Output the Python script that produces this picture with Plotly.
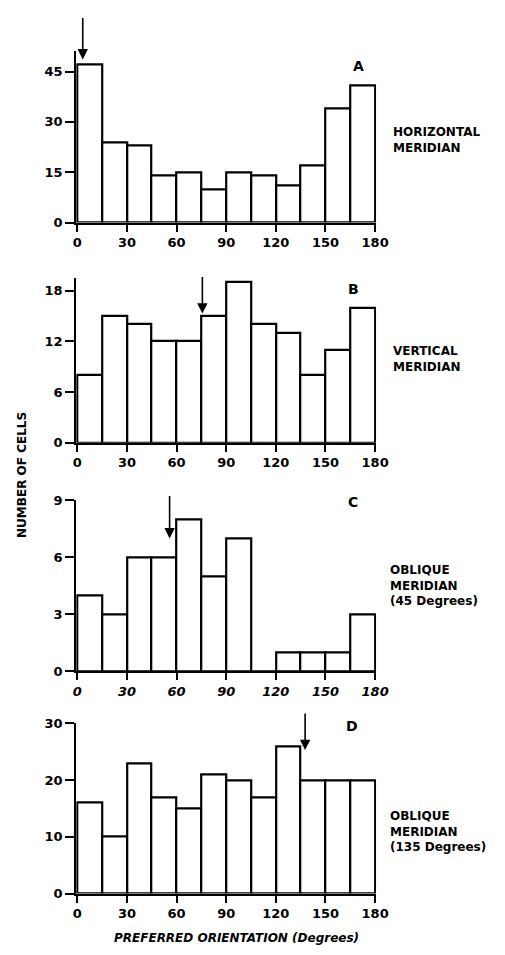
import plotly.graph_objects as go

# Orientation bins (degrees), 15-degree wide
bin_left = list(range(0, 180, 15))
bin_centers = [b + 7.5 for b in bin_left]
x_ticks = [0, 30, 60, 90, 120, 150, 180]

# Cell counts per orientation bin for each meridian
counts_horizontal = [47, 24, 23, 14, 15, 10, 15, 14, 11, 17, 34, 41]
counts_vertical = [8, 15, 14, 12, 12, 15, 19, 14, 13, 8, 11, 16]
counts_oblique45 = [4, 3, 6, 6, 8, 5, 7, 0, 1, 1, 1, 3]
counts_oblique135 = [16, 10, 23, 17, 15, 21, 20, 17, 26, 20, 20, 20]

# Mean preferred orientation marked by an arrow in each panel (degrees)
mean_orientation = [3.3, 75.6, 55.8, 137.7]

panel_letters = ["A", "B", "C", "D"]
panel_names = [
    "HORIZONTAL<br>MERIDIAN",
    "VERTICAL<br>MERIDIAN",
    "OBLIQUE<br>MERIDIAN<br>(45 Degrees)",
    "OBLIQUE<br>MERIDIAN<br>(135 Degrees)",
]
y_tick_values = [[0, 15, 30, 45], [0, 6, 12, 18], [0, 3, 6, 9], [0, 10, 20, 30]]

all_counts = [counts_horizontal, counts_vertical, counts_oblique45, counts_oblique135]

# ---- layout geometry (pixels in a 505 x 955 page) ----
W, H = 505, 955
FONT = "DejaVu Sans"
y_top_value = [51, 19.5, 9, 30]
panel_px = [(45.1, 219.0), (275.4, 442.7), (501.3, 675.0), (727.9, 900.7)]  # (top, bottom)
x_px = (75.7, 385.3)
arrow_tip_value = [48.6, 15.3, 7.0, 25.3]
arrow_len_px = [43, 38, 44, 38]
letter_px = [(366.7, 60), (362, 286), (361, 503), (360.7, 730)]
name_px = [(401, 135), (401, 358), (398, 588), (398, 838)]

fig = go.Figure()
layout = dict(
    width=W, height=H,
    margin=dict(l=0, r=0, t=0, b=0),
    paper_bgcolor="white", plot_bgcolor="white",
    showlegend=False,
    font=dict(family=FONT, color="black"),
    bargap=0,
)
annotations = []

for i, counts in enumerate(all_counts):
    n = i + 1
    xa = "x" if n == 1 else f"x{n}"
    ya = "y" if n == 1 else f"y{n}"
    fig.add_trace(go.Bar(
        x=bin_centers, y=counts, width=[15] * len(counts),
        xaxis=xa, yaxis=ya,
        marker=dict(color="white", line=dict(color="black", width=2.2)),
        hoverinfo="skip",
    ))
    top, bot = panel_px[i]
    tick_italic = "italic" if i == 2 else "normal"
    layout[f"xaxis{n}" if n > 1 else "xaxis"] = dict(
        domain=[x_px[0] / W, x_px[1] / W],
        anchor=ya,
        range=[-0.6, 180.6],
        tickmode="array", tickvals=x_ticks, ticktext=[str(t) for t in x_ticks],
        ticks="outside", ticklen=7, tickwidth=2, tickcolor="black",
        showline=True, linewidth=2.2, linecolor="black",
        showgrid=False, zeroline=False,
        tickfont=dict(family=FONT, size=13, weight="bold", style=tick_italic),
        fixedrange=True,
    )
    layout[f"yaxis{n}" if n > 1 else "yaxis"] = dict(
        domain=[1 - bot / H, 1 - top / H],
        anchor=xa,
        range=[0, y_top_value[i]],
        tickmode="array", tickvals=y_tick_values[i],
        ticks="outside", ticklen=9, tickwidth=2, tickcolor="black",
        showline=True, linewidth=2.2, linecolor="black",
        showgrid=False, zeroline=False,
        tickfont=dict(family=FONT, size=13, weight="bold"),
        fixedrange=True,
    )
    # mean orientation arrow
    annotations.append(dict(
        x=mean_orientation[i], y=arrow_tip_value[i], xref=xa, yref=ya,
        ax=0, ay=-arrow_len_px[i], axref="pixel", ayref="pixel",
        text="", showarrow=True, arrowhead=2, arrowsize=1.3,
        arrowwidth=1.6, arrowcolor="black",
    ))
    # panel letter
    lx, ly = letter_px[i]
    annotations.append(dict(
        x=lx / W, y=1 - ly / H, xref="paper", yref="paper",
        text=panel_letters[i], showarrow=False,
        xanchor="center", yanchor="middle",
        font=dict(family=FONT, size=14, weight="bold"),
    ))
    # meridian name
    nx, ny = name_px[i]
    annotations.append(dict(
        x=nx / W, y=1 - ny / H, xref="paper", yref="paper",
        text=panel_names[i], showarrow=False, align="left",
        xanchor="left", yanchor="middle",
        font=dict(family=FONT, size=12, weight="bold"),
    ))

# shared axis titles
annotations.append(dict(
    x=19 / W, y=1 - 475 / H, xref="paper", yref="paper",
    text="NUMBER OF CELLS", textangle=-90, showarrow=False,
    xanchor="center", yanchor="middle",
    font=dict(family=FONT, size=12, weight="bold"),
))
annotations.append(dict(
    x=241 / W, y=1 - 946 / H, xref="paper", yref="paper",
    text="PREFERRED ORIENTATION (Degrees)", showarrow=False,
    xanchor="center", yanchor="middle",
    font=dict(family=FONT, size=12, weight="bold", style="italic"),
))

layout["annotations"] = annotations
fig.update_layout(**layout)
fig.write_html("out.html")
